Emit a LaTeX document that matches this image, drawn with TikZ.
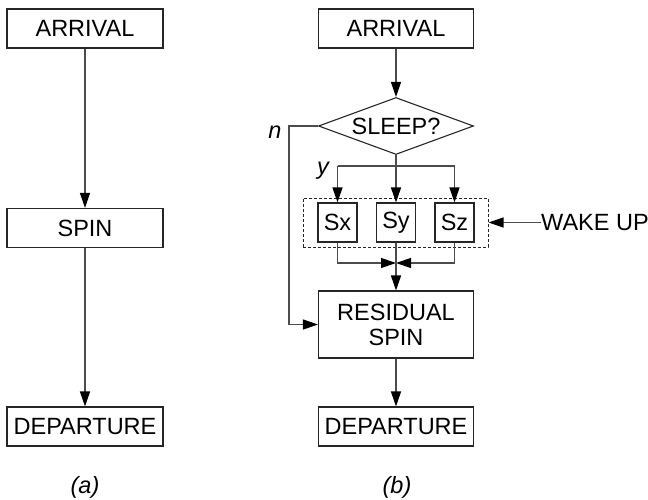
\documentclass[tikz,border=0pt]{standalone}
\usepackage{fontspec}
\setmainfont{Liberation Sans}
\usetikzlibrary{arrows.meta,shapes.geometric}
\begin{document}
\begin{tikzpicture}[x=1pt,y=-1pt,
  every node/.style={font=\fontsize{23.5}{27}\selectfont, inner sep=0pt},
  box/.style={draw=black!85, line width=1.1pt, rectangle, minimum height=39pt, align=center},
  lbox/.style={box, minimum width=156pt},
  rbox/.style={box, minimum width=155pt},
  sbox/.style={box, minimum width=39pt, minimum height=39pt},
  dec/.style={draw=black!85, line width=1.1pt, diamond, aspect=2.72, minimum width=155pt, minimum height=57pt},
  conn/.style={draw=black!70, line width=1.1pt},
  arr/.style={conn, -{Triangle[length=15pt,width=10pt,color=black]}},
  lbl/.style={font=\fontsize{23.5}{27}\selectfont\itshape}
]
\useasboundingbox (0,0) rectangle (648,500);
% left column
\node[lbox] (la) at (85,28.5) {ARRIVAL};
\node[lbox] (ls) at (85,228) {SPIN};
\node[lbox] (ld) at (85,426.5) {DEPARTURE};
\draw[arr] (la) -- (ls);
\draw[arr] (ls) -- (ld);
\node[lbl] (capa) at (85,487) {(a)};
% right column
\node[rbox] (ra) at (396,28.5) {ARRIVAL};
\node[dec] (sl) at (396,126) {SLEEP?};
\node[sbox] (sx) at (337.5,222.5) {Sx};
\node[sbox] (sy) at (396,222.5) {Sy};
\node[sbox] (sz) at (454.5,222.5) {Sz};
\node[draw=black!85, line width=1pt, dash pattern=on 3pt off 2pt, minimum width=185pt, minimum height=49pt] (wk) at (395.5,222.5) {};
\node[rbox, minimum height=67pt] (rs) at (396,324.5) {RESIDUAL\\[-2pt]SPIN};
\node[rbox] (rd) at (396,426.5) {DEPARTURE};
\node[lbl] (capb) at (397,487) {(b)};
\node[anchor=west] (wu) at (541,222.5) {WAKE UP};
\node[lbl] (nl) at (275,132) {n};
\node[lbl] (yl) at (323,171) {y};
\coordinate (br) at (396,166);
\coordinate (brl) at (337.5,166);
\coordinate (brr) at (454.5,166);
\coordinate (mg) at (396,263);
\coordinate (nc) at (289,126);
\draw[arr] (ra) -- (sl);
\draw[conn] (brl) -- (brr);
\draw[arr] (sl.south) -- (sy);
\draw[arr] (brl) -- (sx);
\draw[arr] (brr) -- (sz);
\draw[arr] (sx.south) |- (mg);
\draw[arr] (sz.south) |- (mg);
\draw[arr] (sy) -- (rs);
\draw[arr] (sl.west) -- (nc) |- (rs.west);
\draw[arr] (rs) -- (rd);
\draw[arr] (wu.west) -- (wk.east);
\end{tikzpicture}
\end{document}
